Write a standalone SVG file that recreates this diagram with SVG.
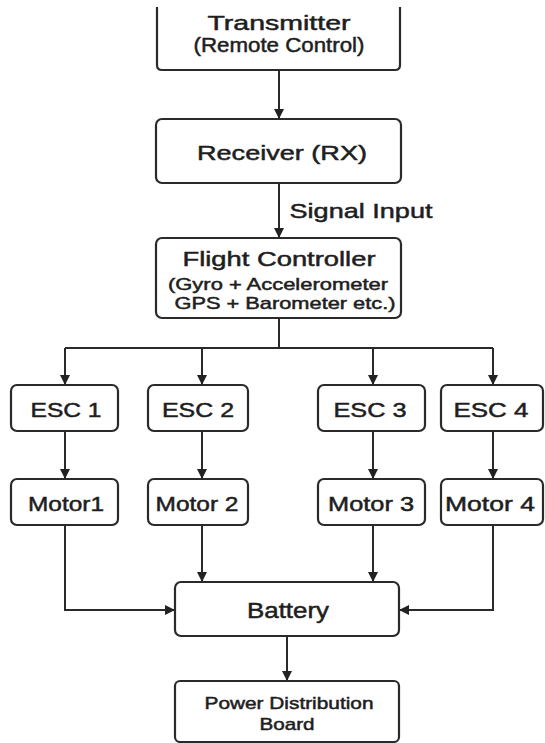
<svg xmlns="http://www.w3.org/2000/svg" width="545" height="743" viewBox="0 0 545 743">
  <defs>
    <marker id="arr" markerUnits="userSpaceOnUse" markerWidth="12" markerHeight="12" refX="10" refY="5" orient="auto">
      <path d="M0,0 L10,5 L0,10 Z" fill="#222"/>
    </marker>
    <style>
      .box { fill: #fff; stroke: #2a2a2a; stroke-width: 2.2; }
      .t { font-family: "Liberation Sans", Arial, sans-serif; fill: #1e1e1e; stroke: #1e1e1e; stroke-width: 0.5; text-anchor: middle; }
      .c { fill: none; stroke: #2a2a2a; stroke-width: 2; }
    </style>
  </defs>
  <rect width="545" height="743" fill="#fff"/>

  <g id="connectors">
    <line class="c" x1="279" y1="70" x2="279" y2="119" marker-end="url(#arr)"/>
    <line class="c" x1="279" y1="183" x2="279" y2="238" marker-end="url(#arr)"/>
    <polyline class="c" points="279,318 279,348"/>
    <polyline class="c" points="65,348 493,348"/>
    <line class="c" x1="65" y1="348" x2="65" y2="385" marker-end="url(#arr)"/>
    <line class="c" x1="202" y1="348" x2="202" y2="385" marker-end="url(#arr)"/>
    <line class="c" x1="373" y1="348" x2="373" y2="385" marker-end="url(#arr)"/>
    <line class="c" x1="493" y1="348" x2="493" y2="385" marker-end="url(#arr)"/>
    <line class="c" x1="65" y1="431" x2="65" y2="479" marker-end="url(#arr)"/>
    <line class="c" x1="202" y1="431" x2="202" y2="479" marker-end="url(#arr)"/>
    <line class="c" x1="373" y1="431" x2="373" y2="479" marker-end="url(#arr)"/>
    <line class="c" x1="493" y1="431" x2="493" y2="479" marker-end="url(#arr)"/>
    <line class="c" x1="202" y1="525" x2="202" y2="582" marker-end="url(#arr)"/>
    <line class="c" x1="373" y1="525" x2="373" y2="582" marker-end="url(#arr)"/>
    <polyline class="c" points="65,525 65,610 175,610" marker-end="url(#arr)"/>
    <polyline class="c" points="493,525 493,610 399,610" marker-end="url(#arr)"/>
    <line class="c" x1="287" y1="636" x2="287" y2="681" marker-end="url(#arr)"/>
    <text class="t" x="361" y="218" font-size="21" textLength="143" lengthAdjust="spacingAndGlyphs">Signal Input</text>
  </g>

  <g id="transmitter">
    <path class="box" d="M157,7 V65 Q157,70 162,70 H395 Q400,70 400,65 V7" fill="none"/>
    <text class="t" x="279" y="30" font-size="21" textLength="143" lengthAdjust="spacingAndGlyphs">Transmitter</text>
    <text class="t" x="279" y="52" font-size="21" textLength="171" lengthAdjust="spacingAndGlyphs">(Remote Control)</text>
  </g>

  <g id="receiver">
    <rect class="box" x="156" y="119" width="245" height="64" rx="6"/>
    <text class="t" x="282" y="160" font-size="21" textLength="170" lengthAdjust="spacingAndGlyphs">Receiver (RX)</text>
  </g>

  <g id="flight-controller">
    <rect class="box" x="156" y="238" width="245" height="80" rx="6"/>
    <text class="t" x="279" y="266" font-size="21" textLength="193" lengthAdjust="spacingAndGlyphs">Flight Controller</text>
    <text class="t" x="278" y="290" font-size="17" textLength="220" lengthAdjust="spacingAndGlyphs">(Gyro + Accelerometer</text>
    <text class="t" x="285" y="309" font-size="17" textLength="221" lengthAdjust="spacingAndGlyphs">GPS + Barometer etc.)</text>
  </g>

  <g id="esc1">
    <rect class="box" x="11" y="385" width="107" height="46" rx="6"/>
    <text class="t" x="66" y="417" font-size="21" textLength="71" lengthAdjust="spacingAndGlyphs">ESC 1</text>
  </g>
  <g id="esc2">
    <rect class="box" x="148" y="385" width="100" height="46" rx="6"/>
    <text class="t" x="198" y="417" font-size="21" textLength="72" lengthAdjust="spacingAndGlyphs">ESC 2</text>
  </g>
  <g id="esc3">
    <rect class="box" x="318" y="385" width="107" height="46" rx="6"/>
    <text class="t" x="370" y="417" font-size="21" textLength="73" lengthAdjust="spacingAndGlyphs">ESC 3</text>
  </g>
  <g id="esc4">
    <rect class="box" x="441" y="385" width="102" height="46" rx="6"/>
    <text class="t" x="491" y="417" font-size="21" textLength="75" lengthAdjust="spacingAndGlyphs">ESC 4</text>
  </g>

  <g id="motor1">
    <rect class="box" x="11" y="479" width="107" height="46" rx="6"/>
    <text class="t" x="66" y="511" font-size="21" textLength="76" lengthAdjust="spacingAndGlyphs">Motor1</text>
  </g>
  <g id="motor2">
    <rect class="box" x="148" y="479" width="100" height="46" rx="6"/>
    <text class="t" x="197" y="511" font-size="21" textLength="83" lengthAdjust="spacingAndGlyphs">Motor 2</text>
  </g>
  <g id="motor3">
    <rect class="box" x="318" y="479" width="107" height="46" rx="6"/>
    <text class="t" x="371" y="511" font-size="21" textLength="86" lengthAdjust="spacingAndGlyphs">Motor 3</text>
  </g>
  <g id="motor4">
    <rect class="box" x="441" y="479" width="102" height="46" rx="6"/>
    <text class="t" x="490" y="511" font-size="21" textLength="90" lengthAdjust="spacingAndGlyphs">Motor 4</text>
  </g>

  <g id="battery">
    <rect class="box" x="175" y="582" width="224" height="54" rx="6"/>
    <text class="t" x="288" y="618" font-size="22" textLength="82" lengthAdjust="spacingAndGlyphs">Battery</text>
  </g>

  <g id="pdb">
    <rect class="box" x="175" y="681" width="224" height="61" rx="5"/>
    <text class="t" x="289" y="709" font-size="17" textLength="169" lengthAdjust="spacingAndGlyphs">Power Distribution</text>
    <text class="t" x="287" y="730" font-size="17" textLength="55" lengthAdjust="spacingAndGlyphs">Board</text>
  </g>
</svg>
